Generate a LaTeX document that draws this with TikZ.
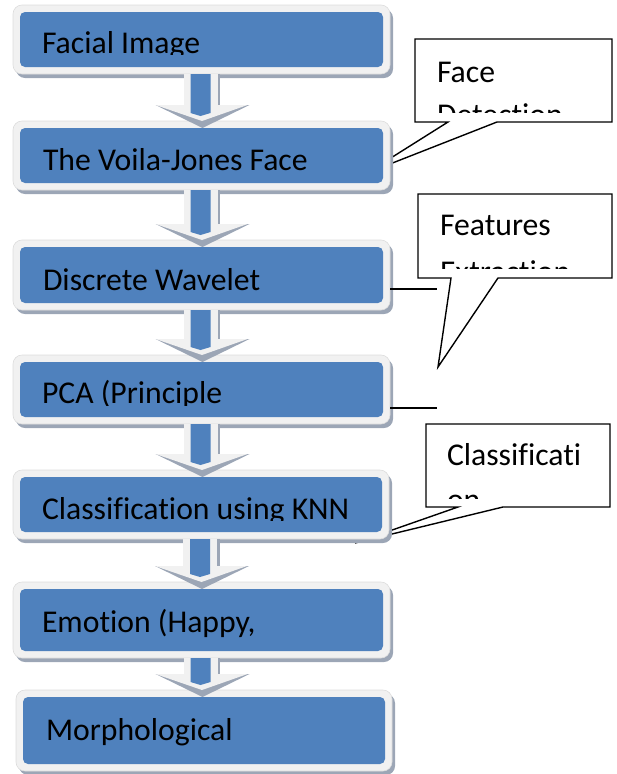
\documentclass[tikz,border=0pt]{standalone}
\usepackage{fontspec}
\setmainfont[Ligatures={NoCommon,NoContextual}]{Carlito}
\usetikzlibrary{shadows,calc}
\definecolor{boxblue}{HTML}{4F81BD}
\definecolor{framefill}{HTML}{F1F1F1}
\definecolor{frameedge}{HTML}{DCDCDC}
\definecolor{shadowgray}{HTML}{9CA6B6}
\tikzset{
  stageframe/.style={rectangle, rounded corners=9pt, fill=framefill, draw=frameedge,
    line width=0.6pt, inner sep=0pt, outer sep=0pt,
    drop shadow={shadow xshift=3pt, shadow yshift=-4pt, fill=shadowgray, opacity=1}},
  stagefill/.style={rectangle, rounded corners=5pt, fill=boxblue, inner sep=0pt, outer sep=0pt},
  stagetext/.style={anchor=base west, inner sep=0pt, outer sep=0pt,
    font=\fontsize{31.7}{38}\selectfont, text=black},
  calloutshape/.style={draw=black, fill=white, line width=1.4pt, line join=miter},
  tieline/.style={draw=black, line width=1.4pt},
}
% one process stage: name, left, top, right, bottom of the blue face
\newcommand\stagebox[5]{%
  \node[stageframe, minimum width={(#4-#2+14)*1pt}, minimum height={(#5-#3+14)*1pt}]
    (f#1) at ({(#2+#4)/2},{(#3+#5)/2}) {};
  \node[stagefill, minimum width={(#4-#2)*1pt}, minimum height={(#5-#3)*1pt}]
    (b#1) at ({(#2+#4)/2},{(#3+#5)/2}) {};
}
% block arrow from the frame of one stage down to the face of the next
\newcommand\stagearrow[2]{%
  \fill[shadowgray] let \p1=(f#1.south), \p2=(b#2.north) in
    (\x1-46pt,\y2+23pt) -- (\x1+48pt,\y2+23pt) -- (\x1+1pt,\y2) -- cycle;
  \fill[framefill] let \p1=(f#1.south), \p2=(b#2.north) in
    (\x1-46pt,\y2+23pt) -- (\x1+46pt,\y2+23pt) -- (\x1+0.5pt,\y2+7pt) -- cycle;
  \fill[framefill] let \p1=(f#1.south), \p2=(b#2.north) in
    (\x1-18pt,\y1) rectangle (\x1+16pt,\y2+23pt);
  \fill[shadowgray] let \p1=(f#1.south), \p2=(b#2.north) in
    (\x1+16pt,\y1) rectangle (\x1+18.5pt,\y2+23pt);
  \fill[boxblue] let \p1=(f#1.south), \p2=(b#2.north) in
    (\x1-11pt,\y1) -- (\x1+9pt,\y1) -- (\x1+9pt,\y2+15pt) -- (\x1-1pt,\y2+12pt)
    -- (\x1-11pt,\y2+15pt) -- cycle;
}
\begin{document}
\begin{tikzpicture}[x=1pt, y=-1pt]
\useasboundingbox (0,0) rectangle (616,774);

% callouts (their pointers run behind the stages)
\draw[calloutshape] (415,39) -- (612,39) -- (612,122) -- (497,122) -- (367,173)
  -- (448,122) -- (415,122) -- cycle;
\draw[calloutshape] (418,194) -- (612,194) -- (612,278) -- (498,278) -- (438,367)
  -- (451,278) -- (418,278) -- cycle;
\draw[calloutshape] (426,424) -- (610,424) -- (610,507) -- (503,507) -- (355,543)
  -- (458,507) -- (426,507) -- cycle;

\begin{scope}
  \clip (416,40) rectangle (611,112);
  \node[stagetext] (n1a) at (437,82) {Face};
  \node[stagetext] (n1b) at (437,125) {Detection};
\end{scope}
\begin{scope}
  \clip (419,195) rectangle (611,268);
  \node[stagetext] (n2a) at (440,235) {Features};
  \node[stagetext] (n2b) at (440,282) {Extraction};
\end{scope}
\begin{scope}
  \clip (427,425) rectangle (609,498);
  \node[stagetext] (n3a) at (447,465) {Classificati};
  \node[stagetext] (n3b) at (447,510) {on};
\end{scope}

% stages
\stagebox{1}{20}{12}{383}{67}
\stagebox{2}{20}{128}{383}{183}
\stagebox{3}{20}{247}{383}{303}
\stagebox{4}{20}{362}{383}{417}
\stagebox{5}{20}{477}{382}{532}
\stagebox{6}{20}{589}{383}{651}
\stagebox{7}{23}{697}{385}{764}

% arrows between stages
\stagearrow{1}{2}
\stagearrow{2}{3}
\stagearrow{3}{4}
\stagearrow{4}{5}
\stagearrow{5}{6}
\stagearrow{6}{7}

% short leader lines to the right of two stages
\coordinate (e3) at (437,289);
\coordinate (e4) at (437,408);
\draw[tieline] (f3.east |- e3) -- (e3);
\draw[tieline] (f4.east |- e4) -- (e4);

% stage labels
\begin{scope}
  \clip (20,12) rectangle (383,54.5);
  \node[stagetext] (t1) at (42,53) {Facial Image};
\end{scope}
\node[stagetext] (t2) at (43,170) {The Voila-Jones Face};
\node[stagetext] (t3) at (43,290) {Discrete Wavelet};
\begin{scope}
  \clip (20,362) rectangle (383,405);
  \node[stagetext] (t4) at (42,403) {PCA (Principle};
\end{scope}
\begin{scope}
  \clip (20,477) rectangle (382,520.5);
  \node[stagetext] (t5) at (42,519) {Classification using KNN};
\end{scope}
\node[stagetext] (t6) at (42,632) {Emotion (Happy,};
\node[stagetext] (t7) at (46,740) {Morphological};
\end{tikzpicture}
\end{document}
